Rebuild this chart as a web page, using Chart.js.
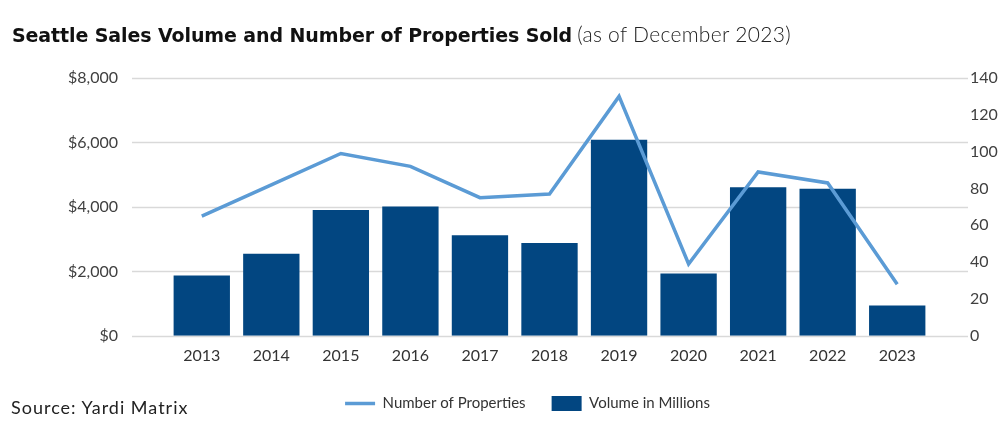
<!DOCTYPE html>
<html>
<head>
<meta charset="utf-8">
<script src="https://cdn.jsdelivr.net/npm/chart.js@4.4.1/dist/chart.umd.min.js"></script>
<style>
  body { margin: 0; background: #fff; }
  #wrap { position: relative; width: 1007px; height: 433px; }
  #chart { position: absolute; left: 0; top: 0; }
  #title { position: absolute; left: 12px; top: 21px; font-size: 20px; color: #111; white-space: nowrap; }
  #title b { font-family: 'DejaVu Sans', sans-serif; font-size: 19px; font-weight: 700; letter-spacing: -0.1px; }
  #title span { font-family: Lato, sans-serif; font-size: 21px; font-weight: 300; color: #222; letter-spacing: 0.3px; }
  #source { position: absolute; left: 11px; top: 396px; font-family: Lato, sans-serif; font-size: 18px; color: #222; letter-spacing: 1px; }
</style>
</head>
<body>
<div id="wrap">
  <canvas id="chart" width="1007" height="433"></canvas>
  <div id="title"><b>Seattle Sales Volume and Number of Properties Sold</b> <span>(as of December 2023)</span></div>
  <div id="source">Source: Yardi Matrix</div>
</div>
<script>
var years = ["2013", "2014", "2015", "2016", "2017", "2018", "2019", "2020", "2021", "2022", "2023"]
var volumeInMillions = [1870, 2550, 3900, 4010, 3120, 2880, 6080, 1930, 4610, 4560, 940]
var numberOfProperties = [65, 82, 99, 92, 75, 77, 130, 39, 89, 83, 28]
var volumeTicks = [0, 2000, 4000, 6000, 8000]
var propertyTicks = [0, 20, 40, 60, 80, 100, 120, 140]

Chart.defaults.font.family = 'Lato';
Chart.defaults.color = '#404040';

// gridlines go a bit past the categories, like in the original
var gridPlugin = {
    id: 'wideGrid',
    beforeDatasetsDraw: function(chart){
        var ctx = chart.ctx
        var area = chart.chartArea
        var y = chart.scales.y
        ctx.save()
        ctx.strokeStyle = '#d9d9d9'
        ctx.lineWidth = 1.5
        volumeTicks.forEach(function(v){
            var py = Math.round(y.getPixelForValue(v)) + 0.5
            ctx.beginPath()
            ctx.moveTo(area.left - 35, py)
            ctx.lineTo(area.right + 36, py)
            ctx.stroke()
        })
        ctx.restore()
    }
}

var ctx = document.getElementById('chart').getContext('2d');

var chartSeattle = new Chart(ctx, {
    type: 'bar',
    data: {
        labels: years,
        datasets: [{
            type: 'line',
            label: 'Number of Properties',
            data: numberOfProperties,
            yAxisID: 'y2',
            borderColor: '#5b9bd5',
            backgroundColor: '#5b9bd5',
            borderWidth: 3.5,
            pointRadius: 0,
            pointStyle: 'line',
            tension: 0
        }, {
            type: 'bar',
            label: 'Volume in Millions',
            data: volumeInMillions,
            yAxisID: 'y',
            backgroundColor: '#024681',
            borderColor: '#024681',
            pointStyle: 'rect',
            categoryPercentage: 1,
            barPercentage: 0.81
        }]
    },
    options: {
        responsive: false,
        animation: false,
        layout: {
            padding: { left: 48, right: 0, top: 78, bottom: 12 }
        },
        scales: {
            x: {
                grid: { display: false },
                border: { display: false },
                afterFit: function(scale){ scale.height += 3 },
                ticks: { padding: 2, font: { size: 16 }, color: '#333' }
            },
            y: {
                position: 'left',
                min: 0,
                max: 8000,
                afterFit: function(scale){ scale.width = 119 },
                afterBuildTicks: function(scale){ scale.ticks = volumeTicks.map(function(v){ return { value: v } }) },
                grid: { display: false },
                border: { display: false },
                ticks: {
                    padding: 41,
                    font: { size: 16 },
                    color: '#404040',
                    callback: function(v){ return '$' + v.toLocaleString('en-US') }
                }
            },
            y2: {
                position: 'right',
                min: 0,
                max: 140,
                afterFit: function(scale){ scale.width = 75 },
                afterBuildTicks: function(scale){ scale.ticks = propertyTicks.map(function(v){ return { value: v } }) },
                grid: { display: false },
                border: { display: false },
                ticks: { padding: 30, font: { size: 16 }, color: '#404040' }
            }
        },
        plugins: {
            title: { display: false },
            tooltip: { enabled: false },
            legend: {
                display: true,
                position: 'bottom',
                labels: {
                    usePointStyle: true,
                    pointStyleWidth: 30,
                    boxHeight: 15,
                    padding: 26,
                    color: '#333',
                    font: { size: 15 }
                }
            }
        }
    },
    plugins: [gridPlugin]
})
</script>
</body>
</html>
